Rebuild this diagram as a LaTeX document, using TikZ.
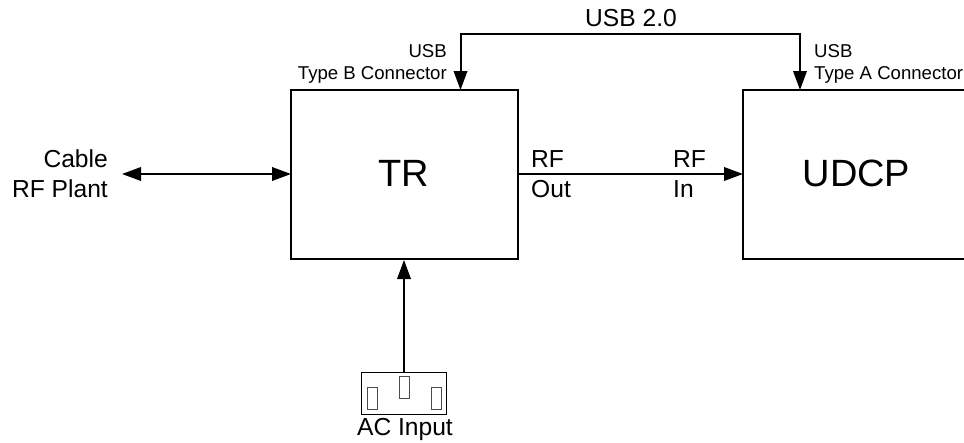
\documentclass[tikz,border=0pt]{standalone}
\usepackage{fontspec}
\setmainfont{Liberation Sans}
\usetikzlibrary{arrows.meta}
\tikzset{
  x=1pt,y=-1pt,
  blockbox/.style={draw=black,line width=2pt,minimum width=#1,minimum height=169pt,inner sep=0pt},
  bigtext/.style={inner sep=0pt,font=\fontsize{38}{42}\selectfont},
  link/.style={draw=black,line width=2pt},
  tip/.style={-{Triangle[length=19pt,width=13.5pt]}},
  bothtip/.style={{Triangle[length=19pt,width=13.5pt]}-{Triangle[length=19pt,width=13.5pt]}},
  lab/.style={inner sep=0pt,font=\fontsize{24.6}{28}\selectfont,align=left},
  smalllab/.style={inner sep=0pt,font=\fontsize{18.6}{22}\selectfont,align=left},
  pin/.style={draw=black!70,line width=1pt,fill=white,minimum width=10pt,minimum height=22pt,inner sep=0pt},
}
\begin{document}
\begin{tikzpicture}
\useasboundingbox (0,0) rectangle (964,442);
\node[blockbox=227pt] (tr) at (404.5,174.5) {};
\node[blockbox=226pt] (udcp) at (856,174.5) {};
\node[bigtext,anchor=base] (trtext) at (403.5,186) {TR};
\node[bigtext,anchor=base] (udcptext) at (856.5,186) {UDCP};
\coordinate (busl) at (460.5,34);
\coordinate (busr) at (800,34);
\coordinate (trtop) at (460.5,90);
\coordinate (udcptop) at (800,90);
\coordinate (plant) at (122,174);
\coordinate (trleft) at (291,174);
\coordinate (trright) at (518,174);
\coordinate (udcpleft) at (743,174);
\coordinate (trbot) at (404,260);
\node[draw=black,line width=0.9pt,minimum width=85pt,minimum height=42pt,inner sep=0pt] (ac) at (404,393) {};
\node[pin] (p1) at (372,398) {};
\node[pin] (p2) at (404,387) {};
\node[pin] (p3) at (436,398) {};
\draw[link,tip] (busr) -- (busl) -- (trtop);
\draw[link,tip] (busl) -- (busr) -- (udcptop);
\draw[link,bothtip] (plant) -- (trleft);
\draw[link,tip] (trright) -- (udcpleft);
\draw[link,tip] (ac.north) -- (trbot);
\node[lab,anchor=base] (usb) at (631,26) {USB 2.0};
\node[smalllab,anchor=base east] (bl1) at (447,57) {USB};
\node[smalllab,anchor=base east] (bl2) at (447,79) {Type B Connector};
\node[smalllab,anchor=base west] (al1) at (814,57) {USB};
\node[smalllab,anchor=base west] (al2) at (814,79) {Type A Connector};
\node[lab,anchor=base east] (c1) at (108,167) {Cable};
\node[lab,anchor=base east] (c2) at (108,197) {RF Plant};
\node[lab,anchor=base west] (ro1) at (531,167) {RF};
\node[lab,anchor=base west] (ro2) at (531,197) {Out};
\node[lab,anchor=base west] (ri1) at (673,167) {RF};
\node[lab,anchor=base west] (ri2) at (673,197) {In};
\node[lab,anchor=base] (acl) at (405,435) {AC Input};
\end{tikzpicture}
\end{document}
